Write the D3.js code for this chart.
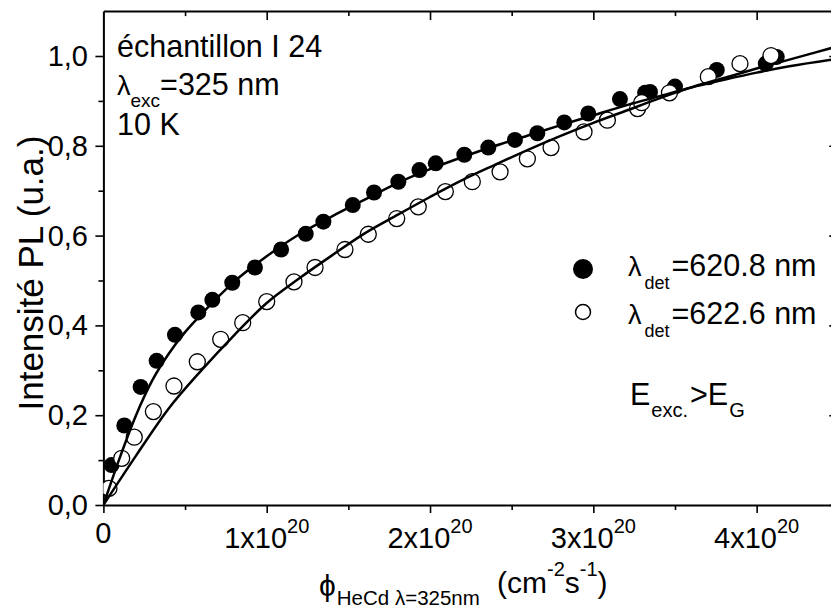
<!DOCTYPE html>
<html>
<head>
<meta charset="utf-8">
<script src="https://cdn.jsdelivr.net/npm/d3@7"></script>
<style>
  html, body { margin: 0; padding: 0; background: #fff; }
  svg { display: block; }
  text { font-family: "Liberation Sans", Arial, "DejaVu Sans", sans-serif; fill: #000; }
</style>
</head>
<body>
<svg id="chart" width="831" height="609"></svg>
<script>
// ---- data (x in units of 1e20 cm^-2 s^-1) ----
const filledX = [0.05, 0.128, 0.228, 0.326, 0.438, 0.581, 0.667, 0.789, 0.928, 1.088, 1.239, 1.347, 1.527, 1.657, 1.806, 1.935, 2.035, 2.21, 2.357, 2.52, 2.657, 2.822, 2.969, 3.163, 3.317, 3.347, 3.5, 3.756, 4.056, 4.123];
const filledY = [0.089, 0.177, 0.263, 0.321, 0.379, 0.429, 0.457, 0.495, 0.529, 0.569, 0.604, 0.631, 0.668, 0.696, 0.72, 0.746, 0.761, 0.78, 0.796, 0.813, 0.828, 0.852, 0.872, 0.904, 0.918, 0.92, 0.932, 0.969, 0.983, 0.998];
const openX = [0.034, 0.112, 0.189, 0.306, 0.432, 0.575, 0.718, 0.853, 1.0, 1.167, 1.296, 1.479, 1.622, 1.796, 1.928, 2.094, 2.259, 2.429, 2.596, 2.741, 2.943, 3.086, 3.271, 3.296, 3.466, 3.704, 3.898, 4.088];
const openY = [0.037, 0.104, 0.151, 0.208, 0.265, 0.319, 0.369, 0.406, 0.453, 0.497, 0.529, 0.569, 0.603, 0.638, 0.664, 0.698, 0.72, 0.742, 0.771, 0.796, 0.831, 0.857, 0.883, 0.896, 0.918, 0.954, 0.983, 1.001];
// fitted curves
const fitFilledX = [0, 0.1, 0.2, 0.3, 0.4, 0.5, 0.6, 0.8, 1.0, 1.2, 1.4, 1.6, 1.8, 2.0, 2.2, 2.4, 2.6, 2.8, 3.0, 3.2, 3.4, 3.6, 3.8, 4.0, 4.2, 4.5];
const fitFilledY = [0, 0.105, 0.2, 0.278, 0.337, 0.385, 0.425, 0.497, 0.554, 0.603, 0.643, 0.68, 0.717, 0.748, 0.775, 0.8, 0.823, 0.846, 0.868, 0.89, 0.91, 0.93, 0.947, 0.963, 0.977, 0.994];
const fitOpenX = [0, 0.2, 0.4, 0.6, 0.8, 1.0, 1.2, 1.4, 1.6, 1.8, 2.0, 2.2, 2.4, 2.6, 2.8, 3.0, 3.2, 3.4, 3.6, 3.8, 4.0, 4.2, 4.5];
const fitOpenY = [0, 0.11, 0.215, 0.3, 0.378, 0.45, 0.505, 0.556, 0.605, 0.646, 0.686, 0.724, 0.758, 0.791, 0.822, 0.851, 0.878, 0.905, 0.93, 0.951, 0.972, 0.992, 1.022];

const xMajorTicks = [0, 1, 2, 3, 4];
const xMinorTicks = [0.5, 1.5, 2.5, 3.5];
const xTickMantissa = ["0", "1x10", "2x10", "3x10", "4x10"];
const xTickExponent = ["", "20", "20", "20", "20"];
const yMajorTicks = [0, 0.2, 0.4, 0.6, 0.8, 1.0];
const yMinorTicks = [0.1, 0.3, 0.5, 0.7, 0.9];
const yTickLabels = ["0,0", "0,2", "0,4", "0,6", "0,8", "1,0"];
const legendLabels = ["=620.8 nm", "=622.6 nm"];

// ---- layout ----
const svg = d3.select("#chart");
const L = 103.4, R = 838.3, T = 11.1, B = 505;
const x = d3.scaleLinear().domain([0, 4.5]).range([L, R]);
const y = d3.scaleLinear().domain([0, 1.1]).range([B, T]);

const axisStroke = 2;
function styleAxis(g) {
  g.select(".domain").attr("stroke", "#000").attr("stroke-width", axisStroke);
  g.selectAll(".tick line").attr("stroke", "#000").attr("stroke-width", 1.6);
  g.selectAll(".tick text").remove();
}

// bottom axis (outward ticks)
svg.append("g").attr("transform", `translate(0,${B})`)
  .call(d3.axisBottom(x).tickValues(xMajorTicks).tickSize(8).tickSizeOuter(0).tickFormat(() => ""))
  .call(styleAxis);
svg.append("g").attr("transform", `translate(0,${B})`)
  .call(d3.axisBottom(x).tickValues(xMinorTicks).tickSize(5).tickSizeOuter(0).tickFormat(() => ""))
  .call(g => g.select(".domain").remove()).call(styleAxis);
// top axis (inward ticks)
svg.append("g").attr("transform", `translate(0,${T})`)
  .call(d3.axisBottom(x).tickValues(xMajorTicks.slice(1)).tickSize(9).tickSizeOuter(0).tickFormat(() => ""))
  .call(styleAxis);
svg.append("g").attr("transform", `translate(0,${T})`)
  .call(d3.axisBottom(x).tickValues(xMinorTicks).tickSize(5).tickSizeOuter(0).tickFormat(() => ""))
  .call(g => g.select(".domain").remove()).call(styleAxis);
// left axis (outward ticks)
svg.append("g").attr("transform", `translate(${L},0)`)
  .call(d3.axisLeft(y).tickValues(yMajorTicks).tickSize(8).tickSizeOuter(0).tickFormat(() => ""))
  .call(styleAxis);
svg.append("g").attr("transform", `translate(${L},0)`)
  .call(d3.axisLeft(y).tickValues(yMinorTicks).tickSize(5).tickSizeOuter(0).tickFormat(() => ""))
  .call(g => g.select(".domain").remove()).call(styleAxis);
// right axis (inward ticks)
svg.append("g").attr("transform", `translate(${R},0)`)
  .call(d3.axisLeft(y).tickValues(yMajorTicks).tickSize(9).tickSizeOuter(0).tickFormat(() => ""))
  .call(styleAxis);
svg.append("g").attr("transform", `translate(${R},0)`)
  .call(d3.axisLeft(y).tickValues(yMinorTicks).tickSize(5).tickSizeOuter(0).tickFormat(() => ""))
  .call(g => g.select(".domain").remove()).call(styleAxis);

// tick labels
const tickFont = 29;
yMajorTicks.forEach((v, i) => {
  svg.append("text").attr("x", 88).attr("y", y(v) + 10)
    .attr("text-anchor", "end").attr("font-size", tickFont).text(yTickLabels[i]);
});
xMajorTicks.forEach((v, i) => {
  const t = svg.append("text").attr("x", x(v)).attr("text-anchor", "middle").attr("font-size", tickFont);
  if (xTickExponent[i] === "") {
    t.attr("y", 543).text(xTickMantissa[i]);
  } else {
    t.attr("y", 548);
    t.append("tspan").text(xTickMantissa[i]);
    t.append("tspan").attr("font-size", 20).attr("dy", -15).text(xTickExponent[i]);
  }
});

// axis titles
svg.append("text")
  .attr("transform", `translate(43,${(T + B) / 2 + 15}) rotate(-90)`)
  .attr("text-anchor", "middle").attr("font-size", 35)
  .text("Intensité PL (u.a.)");

const xt = svg.append("text").attr("x", 319).attr("y", 596).attr("font-size", 30);
xt.append("tspan").text("ϕ");
xt.append("tspan").attr("font-size", 20.5).attr("dy", 9).attr("dx", 1).text("HeCd λ=325nm");
xt.append("tspan").attr("font-size", 30).attr("x", 497).attr("dy", -12).text("(cm");
xt.append("tspan").attr("font-size", 20).attr("dy", -17).text("-2");
xt.append("tspan").attr("font-size", 30).attr("dy", 17).text("s");
xt.append("tspan").attr("font-size", 20).attr("dy", -17).text("-1");
xt.append("tspan").attr("font-size", 30).attr("dy", 17).text(")");

// clip for plot area
svg.append("clipPath").attr("id", "plotclip").append("rect")
  .attr("x", L).attr("y", T).attr("width", R - L).attr("height", B - T);
const plot = svg.append("g").attr("clip-path", "url(#plotclip)");

const rData = 8;
plot.append("g").selectAll("circle").data(filledX.map((v, i) => [v, filledY[i]]))
  .join("circle").attr("cx", d => x(d[0])).attr("cy", d => y(d[1])).attr("r", rData)
  .attr("fill", "#000");
plot.append("g").selectAll("circle").data(openX.map((v, i) => [v, openY[i]]))
  .join("circle").attr("cx", d => x(d[0])).attr("cy", d => y(d[1])).attr("r", rData)
  .attr("fill", "#fff").attr("stroke", "#000").attr("stroke-width", 1.3);

const line = d3.line().x(d => x(d[0])).y(d => y(d[1])).curve(d3.curveMonotoneX);
plot.append("path").datum(fitFilledX.map((v, i) => [v, fitFilledY[i]]))
  .attr("d", line).attr("fill", "none").attr("stroke", "#000").attr("stroke-width", 2.5);
plot.append("path").datum(fitOpenX.map((v, i) => [v, fitOpenY[i]]))
  .attr("d", line).attr("fill", "none").attr("stroke", "#000").attr("stroke-width", 2.5);

// annotations
const annFont = 30.5;
svg.append("text").attr("x", 117).attr("y", 57).attr("font-size", annFont).text("échantillon I 24");
const a2 = svg.append("text").attr("x", 117).attr("y", 95).attr("font-size", annFont);
a2.append("tspan").attr("font-size", 27).text("λ");
a2.append("tspan").attr("font-size", 19).attr("dy", 12).text("exc");
a2.append("tspan").attr("dy", -12).text("=325 nm");
svg.append("text").attr("x", 117).attr("y", 135).attr("font-size", annFont).text("10 K");

// legend
svg.append("circle").attr("cx", 583).attr("cy", 269).attr("r", 10).attr("fill", "#000");
svg.append("circle").attr("cx", 583).attr("cy", 312).attr("r", 7.5).attr("fill", "#fff")
  .attr("stroke", "#000").attr("stroke-width", 1.5);
[276, 324].forEach((by, i) => {
  const t = svg.append("text").attr("x", 628).attr("y", by).attr("font-size", annFont);
  t.append("tspan").attr("font-size", 27).text("λ");
  t.append("tspan").attr("font-size", 18).attr("dy", 13).attr("dx", 3).text("det");
  t.append("tspan").attr("dy", -13).attr("dx", 2).text(legendLabels[i]);
});

const eg = svg.append("text").attr("x", 630).attr("y", 405).attr("font-size", annFont);
eg.append("tspan").text("E");
eg.append("tspan").attr("font-size", 20).attr("dy", 12).attr("dx", 1).text("exc.");
eg.append("tspan").attr("dy", -12).attr("dx", 2).text(">E");
eg.append("tspan").attr("font-size", 20).attr("dy", 12).attr("dx", 1).text("G");
</script>
</body>
</html>
